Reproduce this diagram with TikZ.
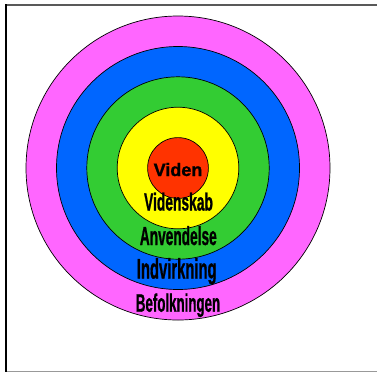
\documentclass[tikz,border=0pt]{standalone}
\usepackage{fontspec}
\setsansfont{Liberation Sans}[BoldFeatures={FakeBold=1.2}]
\begin{document}
\begin{tikzpicture}[x=1pt,y=-1pt,
  ring/.style={circle,draw=black,line width=0.7pt,inner sep=0pt,minimum size=#1},
  lbl/.style={anchor=base,inner sep=0pt,text=black,font=\sffamily\bfseries}]
\useasboundingbox (0,0) rectangle (377,373);
\fill[white] (0,0) rectangle (377,373);
% frame
\draw[line width=1.2pt,draw=black!65] (5,5) -- (377,5);
\draw[line width=0.9pt,draw=black!40] (6,371.3) -- (377,371.3);
\draw[line width=2pt,draw=black] (6,4.4) -- (6,372);
% rings
\definecolor{cpink}{HTML}{FF66FF}
\definecolor{cblue}{HTML}{0066FF}
\definecolor{cgreen}{HTML}{33CC33}
\definecolor{cyellow}{HTML}{FFFF00}
\definecolor{cred}{HTML}{FF3300}
\node[ring=304pt,fill=cpink] (befolk) at (178,168) {};
\node[ring=243pt,fill=cblue] (indv) at (178,168) {};
\node[ring=182.4pt,fill=cgreen] (anv) at (178,168) {};
\node[ring=121.6pt,fill=cyellow] (vsk) at (178,168) {};
\node[ring=60.8pt,fill=cred] (viden) at (178,168) {};
% labels
\node[lbl,font=\sffamily\bfseries\fontsize{18}{18}\selectfont] (tviden) at (178,176) {Viden};
\node[lbl,font=\sffamily\bfseries\fontsize{13.8}{14}\selectfont] (tvsk) at (178.5,210.5) {\scalebox{1}[1.8]{Videnskab}};
\node[lbl,font=\sffamily\bfseries\fontsize{13.7}{14}\selectfont] (tanv) at (178.3,245) {\scalebox{1}[1.9]{Anvendelse}};
\node[lbl,font=\sffamily\bfseries\fontsize{14.8}{15}\selectfont] (tindv) at (176.7,278.5) {\scalebox{1}[1.9]{Indvirkning}};
\node[lbl,font=\sffamily\bfseries\fontsize{13.3}{14}\selectfont] (tbef) at (178,311.7) {\scalebox{1}[1.9]{Befolkningen}};
\end{tikzpicture}
\end{document}
